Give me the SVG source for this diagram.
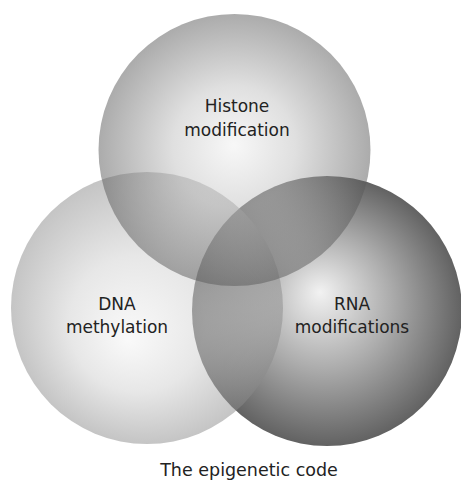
<svg xmlns="http://www.w3.org/2000/svg" width="461" height="486" viewBox="0 0 461 486">
<style>
.lbl{font-family:"DejaVu Sans","Liberation Sans",sans-serif;font-size:17px;fill:#222;text-anchor:middle}
.cap{font-family:"DejaVu Sans","Liberation Sans",sans-serif;font-size:17.5px;fill:#222;text-anchor:middle}
.half{opacity:0.5}
</style>
<defs>
<radialGradient id="gTop" gradientUnits="userSpaceOnUse" cx="234.5" cy="150" r="136" fx="234" fy="145">
<stop offset="0" stop-color="#f0f0f0"/><stop offset="0.45" stop-color="#c0c0c0"/><stop offset="1" stop-color="#585858"/>
</radialGradient>
<radialGradient id="gLeft" gradientUnits="userSpaceOnUse" cx="147" cy="308" r="136" fx="128" fy="340">
<stop offset="0" stop-color="#f4f4f4"/><stop offset="0.5" stop-color="#cfcfcf"/><stop offset="1" stop-color="#8a8a8a"/>
</radialGradient>
<radialGradient id="gRight" gradientUnits="userSpaceOnUse" cx="327" cy="311" r="135" fx="320" fy="292">
<stop offset="0" stop-color="#f2f2f2"/><stop offset="0.5" stop-color="#acacac"/><stop offset="1" stop-color="#626262"/>
</radialGradient>
</defs>
<rect width="461" height="486" fill="#fff"/>
<g id="rna">
<circle cx="327" cy="311" r="135" fill="url(#gRight)"/>
</g>
<g id="dna">
<circle class="half" cx="147" cy="308" r="136" fill="url(#gLeft)"/>
</g>
<g id="histone">
<circle class="half" cx="234.5" cy="150" r="136" fill="url(#gTop)"/>
</g>
<g id="labels">
<text class="lbl" x="237" y="112">Histone</text>
<text class="lbl" x="237" y="136">modification</text>
<text class="lbl" x="117" y="310">DNA</text>
<text class="lbl" x="117" y="333">methylation</text>
<text class="lbl" x="352" y="310">RNA</text>
<text class="lbl" x="352" y="333">modifications</text>
<text class="cap" x="249" y="476">The epigenetic code</text>
</g>
<g id="connectors"/>
</svg>
